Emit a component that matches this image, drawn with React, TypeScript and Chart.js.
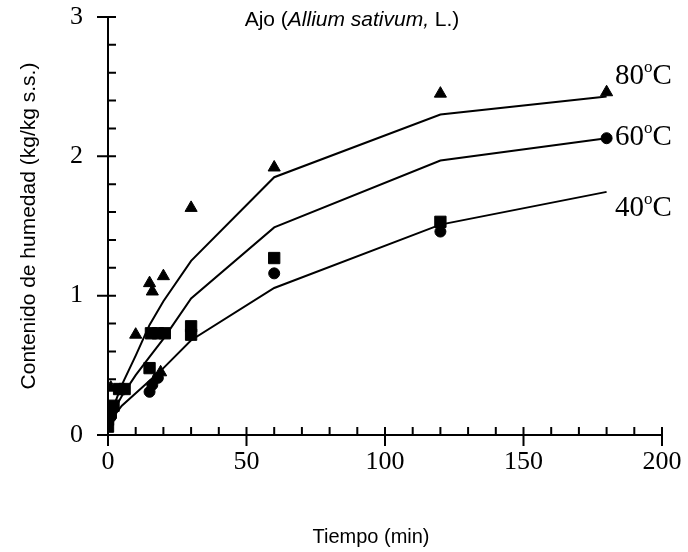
import { useEffect, useRef } from "react";
import { Chart, registerables } from "chart.js";

Chart.register(...registerables);

// ---- Data ----
const lineTimes = [0, 5, 10, 15, 20, 30, 60, 120, 180];
const model80 = [0.1, 0.36, 0.57, 0.79, 0.96, 1.25, 1.85, 2.3, 2.43];
const model60 = [0.1, 0.28, 0.43, 0.56, 0.69, 0.98, 1.49, 1.97, 2.13];
const model40 = [0.08, 0.21, 0.3, 0.39, 0.48, 0.68, 1.055, 1.51, 1.745];

const triTimes = [1, 10, 15, 16, 19, 20, 30, 60, 120, 180];
const triValues = [0.34, 0.72, 1.09, 1.03, 0.45, 1.14, 1.63, 1.92, 2.45, 2.46];

const sqTimes = [0, 0, 1, 2, 4, 6, 15, 15.5, 18, 20.5, 30, 30, 60, 120];
const sqValues = [0.06, 0.11, 0.16, 0.21, 0.33, 0.33, 0.48, 0.73, 0.73, 0.73, 0.78, 0.72, 1.27, 1.53];

const circTimes = [1, 15, 16, 18, 60, 120, 180];
const circValues = [0.13, 0.31, 0.36, 0.41, 1.16, 1.46, 2.13];

const tempLabels = ["80", "60", "40"];
const xTitle = "Tiempo (min)";
const yTitle = "Contenido de humedad (kg/kg s.s.)";

const xMin = 0, xMax = 200, xMajor = 50, xMinor = 10;
const yMin = 0, yMax = 3, yMajor = 1, yMinor = 0.2;

const titleParts = [
  { text: "Ajo (", italic: false },
  { text: "Allium sativum,", italic: true },
  { text: " L.)", italic: false },
];

const toPts = (xs: number[], ys: number[]) => xs.map((x, i) => ({ x, y: ys[i] }));

const axesPlugin = {
  id: "crossAxes",
  beforeDatasetsDraw(chart: any) {
    const { ctx, scales } = chart;
    const x = scales.x, y = scales.y;
    const x0 = x.getPixelForValue(xMin);
    const x1 = x.getPixelForValue(xMax);
    const y0 = y.getPixelForValue(yMin);
    const y1 = y.getPixelForValue(yMax);
    ctx.save();
    ctx.strokeStyle = "#000";
    ctx.lineWidth = 2;
    ctx.beginPath();
    ctx.moveTo(x0, y1);
    ctx.lineTo(x0, y0);
    ctx.moveTo(x0, y0);
    ctx.lineTo(x1, y0);
    const nx = Math.round((xMax - xMin) / xMinor);
    for (let i = 0; i <= nx; i++) {
      const v = xMin + i * xMinor;
      const px = x.getPixelForValue(v);
      const major = Math.abs(v / xMajor - Math.round(v / xMajor)) < 1e-6;
      ctx.moveTo(px, y0 - 8);
      ctx.lineTo(px, major ? y0 + 11 : y0);
    }
    const ny = Math.round((yMax - yMin) / yMinor);
    for (let i = 0; i <= ny; i++) {
      const v = yMin + i * yMinor;
      const py = y.getPixelForValue(v);
      const major = Math.abs(v / yMajor - Math.round(v / yMajor)) < 1e-6;
      ctx.moveTo(major ? x0 - 11 : x0, py);
      ctx.lineTo(x0 + 8, py);
    }
    ctx.stroke();
    ctx.restore();
  },
};

const textPlugin = {
  id: "extraText",
  afterDraw(chart: any) {
    const { ctx } = chart;
    ctx.save();
    ctx.fillStyle = "#000";
    const normal = '21px "Liberation Sans"';
    const italic = 'italic 21px "Liberation Sans"';
    let total = 0;
    const widths = titleParts.map((p) => {
      ctx.font = p.italic ? italic : normal;
      const w = ctx.measureText(p.text).width;
      total += w;
      return w;
    });
    let cx = 352 - total / 2;
    ctx.textBaseline = "middle";
    ctx.textAlign = "left";
    titleParts.forEach((p, i) => {
      ctx.font = p.italic ? italic : normal;
      ctx.fillText(p.text, cx, 20);
      cx += widths[i];
    });
    // x axis title
    ctx.font = '20px "Liberation Sans"';
    ctx.textAlign = "center";
    ctx.fillText(xTitle, 371, 537);
    // temperature labels
    const baselines = [84, 145, 216];
    ctx.textAlign = "left";
    ctx.textBaseline = "alphabetic";
    tempLabels.forEach((t, i) => {
      let lx = 615;
      const by = baselines[i];
      ctx.font = '29px "Liberation Serif"';
      ctx.fillText(t, lx, by);
      lx += ctx.measureText(t).width;
      ctx.font = '17px "Liberation Serif"';
      ctx.fillText("o", lx, by - 12);
      lx += ctx.measureText("o").width;
      ctx.font = '29px "Liberation Serif"';
      ctx.fillText("C", lx, by);
    });
    ctx.restore();
  },
};

export default function App() {
  const ref = useRef<HTMLCanvasElement>(null);
  useEffect(() => {
    const black = "#000";
    const clear = "rgba(0,0,0,0)";
    const lineDs = (data: number[]) => ({
      type: "scatter" as const,
      data: toPts(lineTimes, data),
      showLine: true,
      borderColor: black,
      borderWidth: 2,
      pointRadius: 0,
      fill: false,
    });
    const markDs = (xs: number[], ys: number[], style: string, r: number) => ({
      data: toPts(xs, ys),
      showLine: false,
      pointStyle: style,
      pointRadius: r,
      backgroundColor: black,
      borderColor: black,
      borderWidth: 1,
    });
    const chart = new Chart(ref.current as HTMLCanvasElement, {
      type: "scatter",
      data: {
        datasets: [
          lineDs(model80),
          lineDs(model60),
          lineDs(model40),
          markDs(triTimes, triValues, "triangle", 7),
          markDs(sqTimes, sqValues, "rect", 8),
          markDs(circTimes, circValues, "circle", 5.5),
        ] as any,
      },
      options: {
        responsive: false,
        animation: false,
        events: [],
        layout: { padding: { left: 0, top: 17, right: 26, bottom: 0 } },
        plugins: {
          legend: { display: false },
          tooltip: { enabled: false },
          title: { display: false },
        },
        scales: {
          x: {
            type: "linear",
            min: xMin,
            max: xMax,
            grid: { display: true, drawOnChartArea: false, drawTicks: true, tickLength: 12, color: clear },
            border: { display: false },
            ticks: {
              stepSize: xMajor,
              color: black,
              padding: 0,
              maxRotation: 0,
              font: { family: '"Liberation Serif"', size: 26 },
            },
            title: { display: false },
            afterFit: (s: any) => {
              s.height = 117;
            },
          },
          y: {
            type: "linear",
            min: yMin,
            max: yMax,
            grid: { display: true, drawOnChartArea: false, drawTicks: true, tickLength: 25, color: clear },
            border: { display: false },
            ticks: {
              stepSize: yMajor,
              color: black,
              padding: 0,
              font: { family: '"Liberation Serif"', size: 26 },
            },
            title: {
              display: true,
              text: yTitle,
              color: black,
              font: { family: '"Liberation Sans"', size: 21 },
              padding: { top: 17, bottom: 0 },
            },
            afterFit: (s: any) => {
              s.width = 108;
            },
          },
        },
      },
      plugins: [axesPlugin, textPlugin],
    });
    return () => chart.destroy();
  }, []);
  return (
    <div style={{ position: "absolute", left: 0, top: 0, width: 688, height: 552, background: "#fff" }}>
      <canvas ref={ref} width={688} height={552} style={{ display: "block" }} />
    </div>
  );
}
